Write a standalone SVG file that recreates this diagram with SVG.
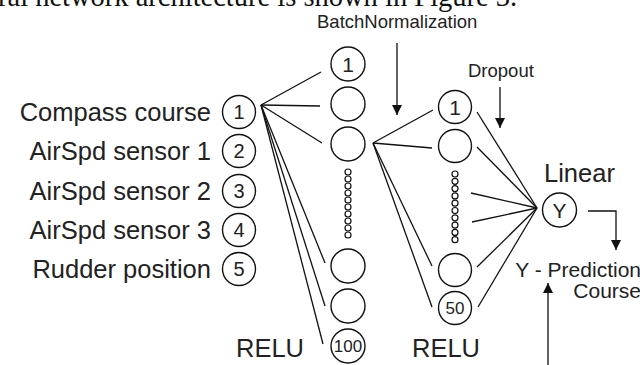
<svg xmlns="http://www.w3.org/2000/svg" width="640" height="365" viewBox="0 0 640 365">
  <defs>
    <marker id="arrow" viewBox="0 0 10 20" refX="10" refY="10" markerWidth="10" markerHeight="20" markerUnits="userSpaceOnUse" orient="auto">
      <path d="M0,5 L10,10 L0,15 Z" fill="#111"/>
    </marker>
    <style>
      .big { font-family: "Liberation Sans", Arial, sans-serif; font-size: 25.5px; fill: #222; }
      .mid { font-family: "Liberation Sans", Arial, sans-serif; font-size: 18.5px; fill: #222; }
      .pred { font-family: "Liberation Sans", Arial, sans-serif; font-size: 21px; fill: #222; }
      .num { font-family: "Liberation Sans", Arial, sans-serif; font-size: 20px; fill: #222; text-anchor: middle; }
      .small { font-family: "Liberation Sans", Arial, sans-serif; font-size: 17px; fill: #222; text-anchor: middle; }
      .neuron { fill: #fff; stroke: #111; stroke-width: 1.4; }
      .dot { fill: #fff; stroke: #111; stroke-width: 1.2; }
      .edge { fill: none; stroke: #111; stroke-width: 1.3; }
      .arr { fill: none; stroke: #111; stroke-width: 1.3; marker-end: url(#arrow); }
      .serif { font-family: "Liberation Serif", "Times New Roman", serif; font-size: 28.5px; fill: #111; }
    </style>
  </defs>
  <rect width="640" height="365" fill="#fff"/>

  <!-- running text line from the page, cut off at the top -->
  <text class="serif" x="-2" y="6">ral network architecture is shown in Figure 3.</text>

  <!-- connectors -->
  <g id="connectors">
    <!-- input 1 to hidden layer 1 -->
    <line class="edge" x1="261" y1="105" x2="321" y2="72"/>
    <line class="edge" x1="261" y1="105" x2="320" y2="106"/>
    <line class="edge" x1="261" y1="105" x2="322" y2="143"/>
    <line class="edge" x1="261" y1="105" x2="325" y2="263"/>
    <line class="edge" x1="261" y1="105" x2="325" y2="306"/>
    <line class="edge" x1="261" y1="105" x2="323" y2="344"/>
    <!-- hidden 1 neuron to hidden layer 2 -->
    <line class="edge" x1="373" y1="143" x2="433" y2="110"/>
    <line class="edge" x1="373" y1="143" x2="432" y2="148"/>
    <line class="edge" x1="373" y1="143" x2="432" y2="266"/>
    <line class="edge" x1="373" y1="143" x2="432" y2="307"/>
    <!-- hidden layer 2 to output -->
    <line class="edge" x1="477" y1="112" x2="537" y2="208"/>
    <line class="edge" x1="477" y1="147" x2="537" y2="208"/>
    <line class="edge" x1="471" y1="193" x2="537" y2="208"/>
    <line class="edge" x1="472" y1="222" x2="537" y2="208"/>
    <line class="edge" x1="477" y1="267" x2="537" y2="208"/>
    <line class="edge" x1="478" y1="307" x2="537" y2="208"/>
    <!-- annotation arrows -->
    <line class="arr" x1="397" y1="43" x2="397" y2="115"/>
    <line class="arr" x1="500" y1="87" x2="500" y2="128"/>
    <polyline class="arr" points="588,211 616,211 616,250"/>
    <line class="arr" x1="548" y1="365" x2="548" y2="283"/>
  </g>

  <!-- input layer -->
  <g id="input-1">
    <text class="big" x="211" y="121" text-anchor="end">Compass course</text>
    <circle class="neuron" cx="239" cy="112" r="16.5"/>
    <text class="num" x="239" y="119">1</text>
  </g>
  <g id="input-2">
    <text class="big" x="211" y="160" text-anchor="end">AirSpd sensor 1</text>
    <circle class="neuron" cx="239" cy="151" r="16.5"/>
    <text class="num" x="239" y="158">2</text>
  </g>
  <g id="input-3">
    <text class="big" x="211" y="200" text-anchor="end">AirSpd sensor 2</text>
    <circle class="neuron" cx="239" cy="191" r="16.5"/>
    <text class="num" x="239" y="198">3</text>
  </g>
  <g id="input-4">
    <text class="big" x="211" y="239" text-anchor="end">AirSpd sensor 3</text>
    <circle class="neuron" cx="239" cy="230" r="16.5"/>
    <text class="num" x="239" y="237">4</text>
  </g>
  <g id="input-5">
    <text class="big" x="211" y="278" text-anchor="end">Rudder position</text>
    <circle class="neuron" cx="239" cy="269" r="16.5"/>
    <text class="num" x="239" y="276">5</text>
  </g>

  <!-- hidden layer 1 (100 units, RELU) -->
  <g id="hidden1">
    <circle class="neuron" cx="348" cy="64" r="17"/>
    <text class="num" x="348" y="71.5" style="font-size:21px">1</text>
    <circle class="neuron" cx="348" cy="104" r="17"/>
    <circle class="neuron" cx="348" cy="144" r="17"/>
    <g id="hidden1-dots">
      <circle class="dot" cx="348" cy="172" r="3"/>
      <circle class="dot" cx="348" cy="179" r="3"/>
      <circle class="dot" cx="348" cy="186" r="3"/>
      <circle class="dot" cx="348" cy="193" r="3"/>
      <circle class="dot" cx="348" cy="200" r="3"/>
      <circle class="dot" cx="348" cy="207" r="3"/>
      <circle class="dot" cx="348" cy="214" r="3"/>
      <circle class="dot" cx="348" cy="221" r="3"/>
      <circle class="dot" cx="348" cy="228" r="3"/>
      <circle class="dot" cx="348" cy="235" r="3"/>
    </g>
    <circle class="neuron" cx="348" cy="266" r="17"/>
    <circle class="neuron" cx="348" cy="306" r="17"/>
    <circle class="neuron" cx="348" cy="346" r="17"/>
    <text class="small" x="348" y="352">100</text>
    <text class="big" x="236" y="357">RELU</text>
  </g>

  <!-- hidden layer 2 (50 units, RELU) -->
  <g id="hidden2">
    <circle class="neuron" cx="455" cy="107" r="16.5"/>
    <text class="num" x="455" y="114.5" style="font-size:21px">1</text>
    <circle class="neuron" cx="455" cy="146" r="16.5"/>
    <g id="hidden2-dots">
      <circle class="dot" cx="455" cy="174" r="3"/>
      <circle class="dot" cx="455" cy="181.3" r="3"/>
      <circle class="dot" cx="455" cy="188.6" r="3"/>
      <circle class="dot" cx="455" cy="195.9" r="3"/>
      <circle class="dot" cx="455" cy="203.2" r="3"/>
      <circle class="dot" cx="455" cy="210.5" r="3"/>
      <circle class="dot" cx="455" cy="217.8" r="3"/>
      <circle class="dot" cx="455" cy="225.1" r="3"/>
      <circle class="dot" cx="455" cy="232.4" r="3"/>
      <circle class="dot" cx="455" cy="239.7" r="3"/>
    </g>
    <circle class="neuron" cx="455" cy="270" r="16.5"/>
    <circle class="neuron" cx="455" cy="308" r="16.5"/>
    <text class="small" x="455" y="314">50</text>
    <text class="big" x="412" y="357">RELU</text>
  </g>

  <!-- output -->
  <g id="output">
    <circle class="neuron" cx="559.5" cy="210" r="17"/>
    <text class="num" x="559.5" y="217.5" style="font-size:21px">Y</text>
    <text class="big" x="544" y="182">Linear</text>
  </g>

  <!-- annotations -->
  <g id="label-batchnorm">
    <text class="mid" x="317" y="28">BatchNormalization</text>
  </g>
  <g id="label-dropout">
    <text class="mid" x="468" y="77">Dropout</text>
  </g>
  <g id="label-prediction">
    <text class="pred" x="641" y="277" text-anchor="end">Y - Prediction</text>
    <text class="pred" x="641" y="298" text-anchor="end">Course</text>
  </g>
</svg>
